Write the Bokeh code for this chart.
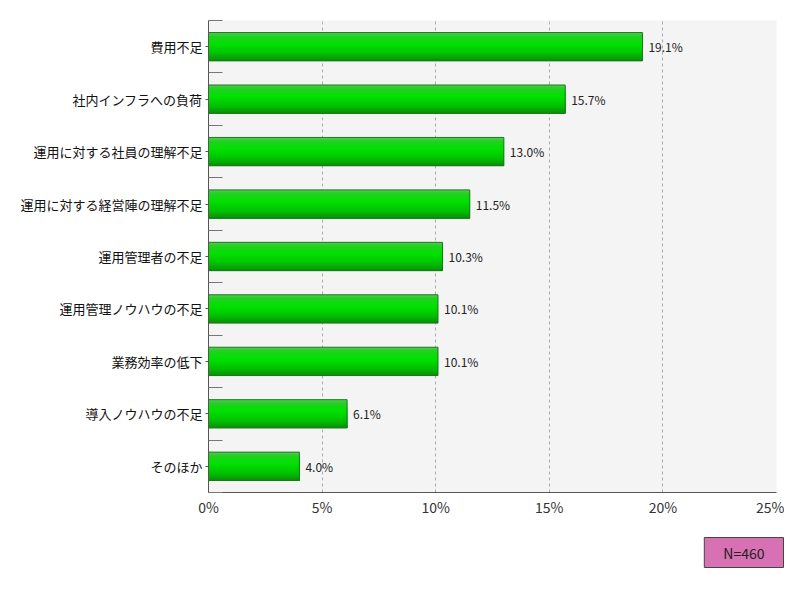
from bokeh.plotting import figure
from bokeh.models import Range1d, FixedTicker, ColumnDataSource, Title, NumeralTickFormatter
from bokeh.core.properties import value
from bokeh.embed import file_html
from bokeh.resources import INLINE

categories = ["費用不足", "社内インフラへの負荷", "運用に対する社員の理解不足", "運用に対する経営陣の理解不足",
              "運用管理者の不足", "運用管理ノウハウの不足", "業務効率の低下", "導入ノウハウの不足", "そのほか"]
values = [19.1, 15.7, 13.0, 11.5, 10.3, 10.1, 10.1, 6.1, 4.0]
x_ticks = [0, 5, 10, 15, 20, 25]
n_label = "N=460"

FONT = "Noto Sans CJK JP"
n = len(categories)
ypos = [n - i - 0.5 for i in range(n)]

p = figure(width=784, height=584, output_backend="svg", toolbar_location=None,
           x_range=Range1d(0, 25), y_range=Range1d(0, n),
           min_border_left=208, min_border_right=8, min_border_top=20, min_border_bottom=92)
p.outline_line_color = None
p.background_fill_color = "#f4f4f4"
p.border_fill_color = "white"

# bars with vertical gradient made of overlapping slices
h = 0.54
stops = [(0.0, (0x5c, 0xc8, 0x5c)), (0.12, (0x22, 0xd0, 0x22)), (0.4, (0x00, 0xe2, 0x00)),
         (0.75, (0x00, 0xc0, 0x00)), (1.0, (0x0c, 0x8c, 0x0c))]

def col_at(t):
    for (t0, c0), (t1, c1) in zip(stops[:-1], stops[1:]):
        if t0 <= t <= t1:
            f = (t - t0) / (t1 - t0) if t1 > t0 else 0
            return "#%02x%02x%02x" % tuple(int(round(a + (b - a) * f)) for a, b in zip(c0, c1))
    return "#%02x%02x%02x" % stops[-1][1]

ns = 16
sh = h / ns
for k in range(ns):
    t = (k + 0.5) / ns
    tops = [y + h / 2 - k * sh for y in ypos]
    bottoms = [y - h / 2 for y in ypos]
    p.quad(left=0, right=values, top=tops, bottom=bottoms, fill_color=col_at(t), line_color=None)

p.hbar(y=ypos, right=values, left=0, height=h, fill_color=None, line_color="#1a7a1a", line_width=1)

src = ColumnDataSource(dict(x=values, y=ypos, t=["%.1f%%" % v for v in values]))
p.text(x="x", y="y", text="t", source=src, x_offset=6, text_baseline="middle",
       text_font=value(FONT), text_font_size="12px", text_color="#222222")

# axes
p.xaxis.ticker = FixedTicker(ticks=x_ticks)
p.xaxis.formatter = NumeralTickFormatter(format="0")
p.xaxis.major_label_overrides = {t: "%d%%" % t for t in x_ticks}
p.xaxis.major_label_text_font = FONT
p.xaxis.major_label_text_font_size = "14px"
p.xaxis.major_label_text_color = "#333333"
p.xaxis.axis_line_color = "#555555"
p.xaxis.major_tick_line_color = None
p.xaxis.minor_tick_line_color = None
p.xaxis.major_label_standoff = -2

p.yaxis.ticker = FixedTicker(ticks=ypos, minor_ticks=list(range(n + 1)))
p.yaxis.major_label_overrides = {y: c for y, c in zip(ypos, categories)}
p.yaxis.major_label_text_font = FONT
p.yaxis.major_label_text_font_size = "13px"
p.yaxis.major_label_text_color = "#111111"
p.yaxis.axis_line_color = "#555555"
p.yaxis.major_tick_in = 0
p.yaxis.major_tick_out = 3
p.yaxis.major_tick_line_color = "#555555"
p.yaxis.minor_tick_in = 14
p.yaxis.minor_tick_out = 0
p.yaxis.minor_tick_line_color = "#777777"
p.yaxis.major_label_standoff = 3

p.xgrid.ticker = FixedTicker(ticks=x_ticks[1:])
p.xgrid.grid_line_color = "#aaaaaa"
p.xgrid.grid_line_dash = "3 3"
p.ygrid.grid_line_color = None

nt = Title(text=n_label, align="right", offset=-7, standoff=32,
           text_font=FONT, text_font_size="14px", text_font_style="normal", text_color="#222222",
           background_fill_color="#d870b4", border_line_color="#444444",
           padding=(19, 5))
p.add_layout(nt, "below")

open("out.html", "w").write(file_html(p, INLINE))
